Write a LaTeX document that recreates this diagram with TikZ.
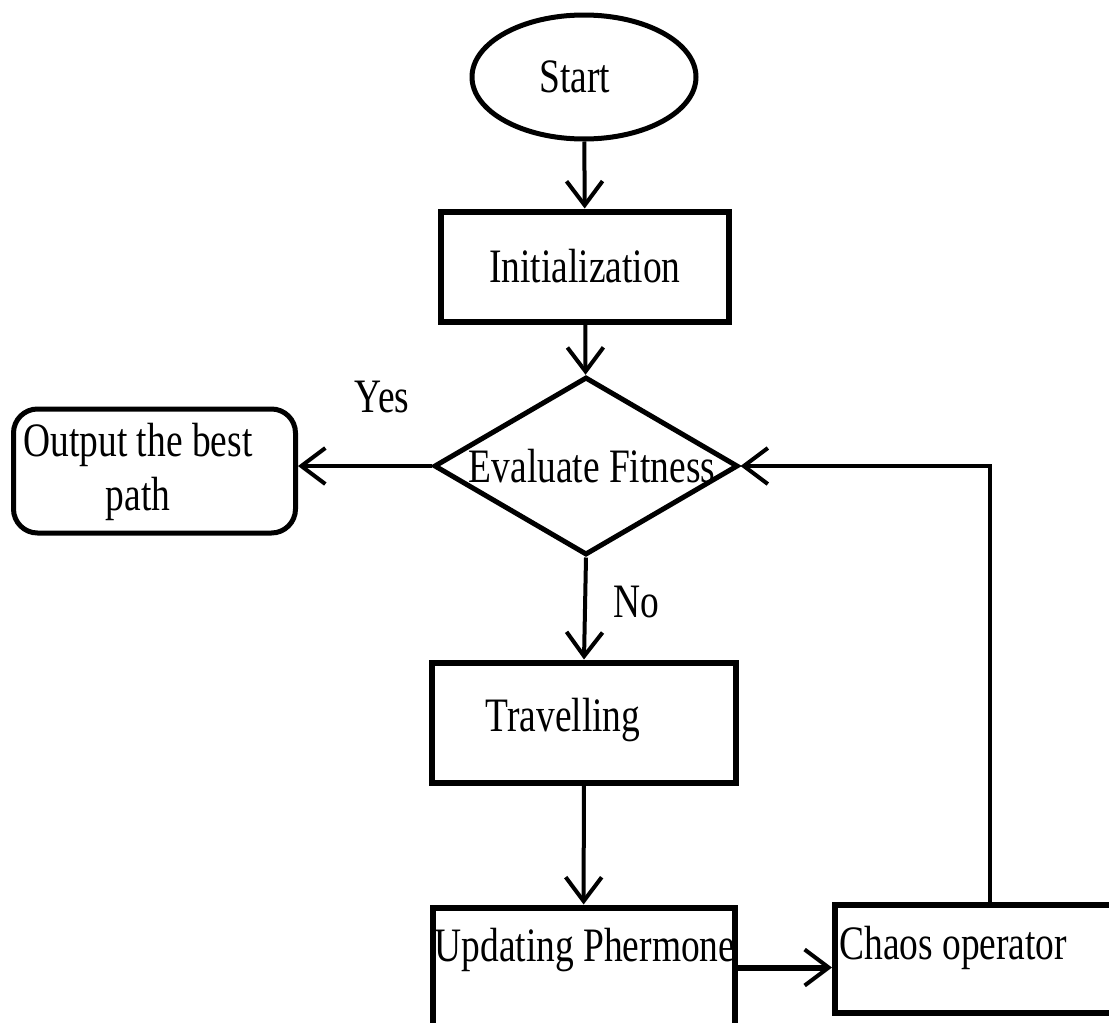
\documentclass[tikz,border=0pt]{standalone}
\usepackage{fontspec}
\setmainfont{Liberation Serif}[FakeStretch=0.78]
\usetikzlibrary{shapes.geometric,arrows.meta}
\begin{document}
\begin{tikzpicture}[x=0.5pt,y=-0.5pt,
  every node/.style={font=\fontsize{24}{27}\selectfont, inner sep=0pt},
  terminal/.style={ellipse, draw, line width=2.5pt, minimum width=112pt, minimum height=62pt},
  process/.style={rectangle, draw, line width=3pt},
  decision/.style={diamond, draw, line width=2.5pt, minimum width=152pt, minimum height=89pt},
  outbox/.style={rectangle, rounded corners=12pt, draw, line width=2.5pt},
  flow/.style={line width=2pt, -{Straight Barb[length=12pt,width=18pt,line width=2pt]}},
  tag/.style={inner sep=0pt, align=center}
]
\useasboundingbox (0,0) rectangle (1109,1023);
\clip (0,0) rectangle (1109,1023);

% boxes
\node[terminal] (start) at (584,77) {\makebox[0pt]{\hspace*{-9pt}Start}};
\node[process, minimum width=144pt, minimum height=55pt] (init) at (585,266.5) {Initialization};
\node[decision] (eval) at (586,466) {\makebox[0pt]{\hspace*{6pt}Evaluate Fitness}};
\node[outbox, minimum width=141pt, minimum height=62pt] (out) at (154.5,471) {};
\node[process, minimum width=152pt, minimum height=60pt] (trav) at (584,722.5) {};
\node[process, minimum width=151pt, minimum height=60pt] (upd) at (583.5,967.5) {};
% the operator box runs on past the right edge of the page
\node[process, minimum width=200pt, minimum height=54pt] (chaos) at (1035,958.5) {};

% box texts
\node[tag] (outtxt) at (138,472) {Output the best\\path};
\node[tag] (travtxt) at (563,720) {Travelling};
\node[tag] (updtxt) at (585,950) {Updating Phermone};
\node[tag, anchor=west] (chaostxt) at (839,948) {Chaos operator};

% branch labels
\node[tag] (yes) at (382,397) {Yes};
\node[tag] (no) at (636,602) {No};

% connectors
\draw[flow] (start) -- (init);
\draw[flow] (init) -- (eval);
\draw[flow] (eval.west) -- (eval.west -| out.east);
\draw[flow] (eval.south) -- (trav.north);
\draw[flow] (trav) -- (upd);
\draw[flow, line width=3pt] (upd.east) -- (upd.east -| chaos.west);
\coordinate (turn) at (990,466);
\draw[flow] (turn |- chaos.north) -- (turn) -- (eval.east);
\end{tikzpicture}
\end{document}
